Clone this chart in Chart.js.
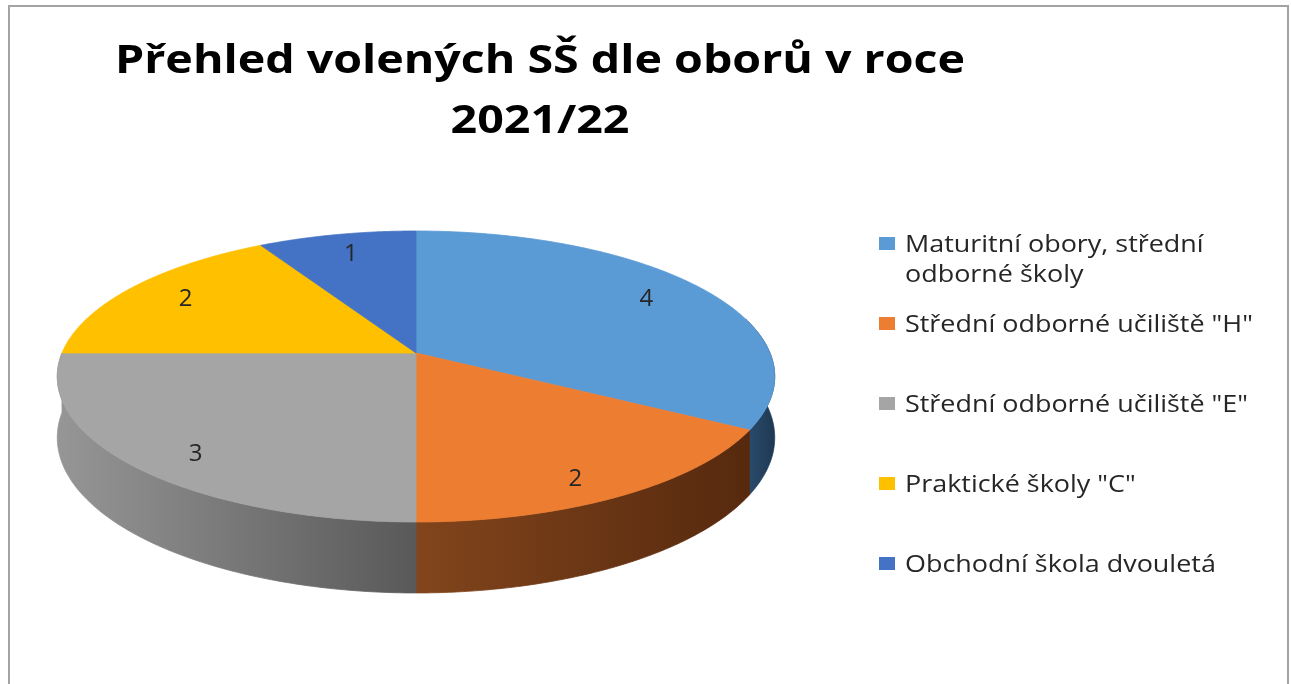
<!DOCTYPE html>
<html><head><meta charset="utf-8">
<script src="https://cdn.jsdelivr.net/npm/chart.js@4.4.1/dist/chart.umd.min.js"></script>
<style>html,body{margin:0;padding:0;background:#fff;overflow:hidden}canvas{display:block}</style>
</head><body>
<canvas id="c" width="1291" height="684"></canvas>
<script>
const titleLines = ['Přehled volených SŠ dle oborů v roce', '2021/22'];
const categories = ['Maturitní obory, střední odborné školy', 'Střední odborné učiliště "H"', 'Střední odborné učiliště "E"', 'Praktické školy "C"', 'Obchodní škola dvouletá'];
const counts = [4, 2, 3, 2, 1];
const topColors = ['#5B9BD5', '#ED7D31', '#A5A5A5', '#FFC000', '#4472C4'];
const wallLight = ['#2C4D6E', '#82451C', '#969696', '#9A7400', '#2A4678'];
const wallDark  = ['#1E3852', '#56290E', '#595959', '#6E5300', '#1E3358'];

// projection style of the 3D disc (perspective)
const geo = {cx: 416, cy: 353, A: 354, B: 141.7, e: 0.1615, D: 59.5};
function proj(r, phi, depth) {
  const X = r * Math.cos(phi), Z = r * Math.sin(phi);
  const w = 1 - geo.e * Z;
  return {x: geo.cx + geo.A * X / w, y: geo.cy + (geo.B * Z + (depth || 0)) / w};
}

const pie3d = {
  id: 'pie3d',
  beforeDraw(chart) {
    const ctx = chart.ctx;
    ctx.save();
    ctx.fillStyle = '#fff';
    ctx.fillRect(0, 0, chart.width, chart.height);
    ctx.strokeStyle = '#a3a3a3';
    ctx.lineWidth = 2;
    ctx.strokeRect(9, 6, 1279, 700);
    // title
    ctx.font = 'bold 40px "Open Sans"';
    ctx.fillStyle = '#000';
    ctx.textAlign = 'center';
    ctx.textBaseline = 'alphabetic';
    const sx = 850 / ctx.measureText(titleLines[0]).width;
    const base = [73, 133];
    titleLines.forEach((t, i) => {
      ctx.save();
      ctx.translate(540, base[i]);
      ctx.scale(sx, 1);
      ctx.fillText(t, 0, 0);
      ctx.restore();
    });
    ctx.restore();
  },
  beforeDatasetsDraw(chart) {
    const ctx = chart.ctx;
    const meta = chart.getDatasetMeta(0);
    const arcs = meta.data.map(a => a.getProps(['startAngle', 'endAngle'], true));
    ctx.save();
    // walls (front half of the disc)
    arcs.forEach((a, i) => {
      const s = Math.max(a.startAngle, -0.25), en = Math.min(a.endAngle, Math.PI);
      if (en <= s) return;
      const N = 120, top = [], bot = [];
      for (let k = 0; k <= N; k++) {
        const phi = s + (en - s) * k / N;
        top.push(proj(1, phi, 0));
        bot.push(proj(1, phi, geo.D));
      }
      const xs = top.concat(bot).map(p => p.x);
      const minX = Math.min(...xs), maxX = Math.max(...xs);
      const g = ctx.createLinearGradient(minX, 0, maxX + 0.01, 0);
      g.addColorStop(0, wallLight[i]);
      g.addColorStop(1, wallDark[i]);
      ctx.beginPath();
      top.forEach((p, k) => k ? ctx.lineTo(p.x, p.y) : ctx.moveTo(p.x, p.y));
      for (let k = bot.length - 1; k >= 0; k--) ctx.lineTo(bot[k].x, bot[k].y);
      ctx.closePath();
      ctx.fillStyle = g;
      ctx.fill();
      ctx.strokeStyle = g;
      ctx.lineWidth = 0.8;
      ctx.stroke();
    });
    // top faces
    arcs.forEach((a, i) => {
      const N = 160;
      ctx.beginPath();
      ctx.moveTo(geo.cx, geo.cy);
      for (let k = 0; k <= N; k++) {
        const p = proj(1, a.startAngle + (a.endAngle - a.startAngle) * k / N, 0);
        ctx.lineTo(p.x, p.y);
      }
      ctx.closePath();
      ctx.fillStyle = topColors[i];
      ctx.fill();
      ctx.strokeStyle = topColors[i];
      ctx.lineWidth = 0.8;
      ctx.stroke();
    });
    // data labels
    ctx.font = '24px "Open Sans"';
    ctx.fillStyle = '#262626';
    ctx.textAlign = 'center';
    ctx.textBaseline = 'middle';
    arcs.forEach((a, i) => {
      const mid = (a.startAngle + a.endAngle) / 2;
      const p = proj(0.8, mid, 0);
      const dy = 0.33 * geo.D * Math.max(0, Math.sin(mid));
      ctx.fillText(String(counts[i]), p.x, p.y + dy - 1);
    });
    ctx.restore();
    return false;
  },
  afterDraw(chart) {
    const ctx = chart.ctx;
    ctx.save();
    ctx.font = '24px "Open Sans"';
    ctx.textAlign = 'left';
    ctx.textBaseline = 'alphabetic';
    const sx = 343 / ctx.measureText(categories[2]).width;
    const maxW = 365;
    const baselines = [252, 332, 412, 492, 572];
    chart.data.labels.forEach((lab, i) => {
      const words = lab.split(' ');
      const lines = [];
      let cur = '';
      words.forEach(w => {
        const t = cur ? cur + ' ' + w : w;
        if (ctx.measureText(t).width * sx > maxW && cur) { lines.push(cur); cur = w; }
        else cur = t;
      });
      if (cur) lines.push(cur);
      const b = baselines[i];
      ctx.fillStyle = chart.data.datasets[0].backgroundColor[i];
      ctx.fillRect(879, b - 8.5 - 6.5, 16, 13);
      ctx.fillStyle = '#262626';
      lines.forEach((ln, k) => {
        ctx.save();
        ctx.translate(905, b + k * 30);
        ctx.scale(sx, 1);
        ctx.fillText(ln, 0, 0);
        ctx.restore();
      });
    });
    ctx.restore();
  }
};

new Chart(document.getElementById('c'), {
  type: 'pie',
  data: {
    labels: categories,
    datasets: [{data: counts, backgroundColor: topColors, borderWidth: 0}]
  },
  options: {
    responsive: false,
    devicePixelRatio: 1,
    animation: false,
    rotation: 0,
    plugins: {legend: {display: false}, tooltip: {enabled: false}, title: {display: false}}
  },
  plugins: [pie3d]
});
</script>
</body></html>
